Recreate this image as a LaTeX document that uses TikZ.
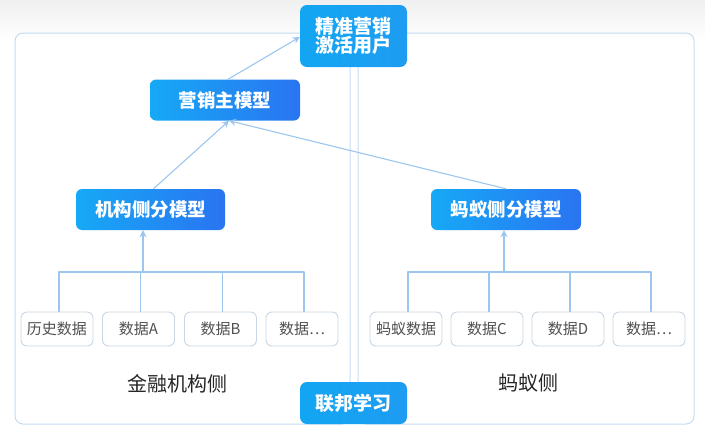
\documentclass[tikz,border=0pt]{standalone}
\usepackage{fontspec}
\setmainfont{Noto Sans CJK SC}
\usetikzlibrary{arrows.meta}
\definecolor{panelline}{HTML}{C3DBF1}
\definecolor{boxleft}{HTML}{16A9F6}
\definecolor{boxright}{HTML}{2A74F1}
\definecolor{capleft}{HTML}{12A6F2}
\definecolor{capright}{HTML}{1E9CF2}
\definecolor{wire}{HTML}{9CC6EE}
\definecolor{databorder}{HTML}{C9D7E5}
\definecolor{datatext}{HTML}{505050}
\begin{document}
\begin{tikzpicture}[x=1pt,y=-1pt,line cap=round,line join=round,
  panel/.style={draw=panelline,line width=1pt,rounded corners=8pt},
  model/.style={rounded corners=6pt,left color=boxleft,right color=boxright,
                text=white,font=\fontsize{18.5}{22}\selectfont\bfseries,
                minimum height=41pt,inner sep=0pt},
  capbox/.style={rounded corners=7pt,left color=capleft,right color=capright,
                 text=white,font=\fontsize{19}{22}\selectfont\bfseries,
                 minimum width=107pt,align=center,inner sep=0pt},
  datum/.style={draw=databorder,line width=.9pt,fill=white,rounded corners=6pt,
                minimum width=72pt,minimum height=34pt,inner sep=0pt,
                text=datatext,font=\fontsize{15}{18}\selectfont},
  side/.style={text=black!85,font=\fontsize{20}{24}\selectfont},
  wireline/.style={draw=wire,line width=1.1pt},
  up/.style={wireline,-{Stealth[length=7pt,width=7pt]}}]
\useasboundingbox (0,0) rectangle (705,440);
\shade[top color=black!6,bottom color=white] (0,0) rectangle (705,40);
\draw[panel] (15,33) rectangle (350,424);
\draw[panel] (358,33) rectangle (694,424);
\node[capbox,minimum height=62pt] (goal) at (353.5,36)
  {精准营销\\[-3pt]激活用户};
\node[capbox,minimum height=42pt] (fed) at (353.5,403) {联邦学习};
\node[model,minimum width=150pt] (main) at (225,100) {营销主模型};
\node[model,minimum width=149pt] (org) at (150.5,209.5) {机构侧分模型};
\node[model,minimum width=150pt] (ant) at (506,209.5) {蚂蚁侧分模型};
\foreach \name/\x/\title in
  {la/57/历史数据, lb/138.5/数据A, lc/220.5/数据B, ld/302/数据…,
   ra/406/蚂蚁数据, rb/487/数据C, rc/568/数据D, rd/649/数据…}
{
  \node[datum] (\name) at (\x,329) {\title};
}
\coordinate (lbus) at (143,272);
\coordinate (rbus) at (504,272);
\foreach \name in {la,lb,lc,ld}
  \draw[wireline] ([xshift=2pt]\name.north) |- (lbus);
\foreach \name in {ra,rb,rc,rd}
  \draw[wireline] ([xshift=2pt]\name.north) |- (rbus);
\draw[up] (lbus) -- (org.south -| lbus);
\draw[up] (rbus) -- (ant.south -| rbus);
\draw[up] ([xshift=3pt]org.north) -- ([xshift=4pt]main.south);
\draw[up] (ant.north) -- ([xshift=4pt]main.south);
\draw[up] ([xshift=3pt]main.north) -- ([yshift=-1pt]goal.west);
\node[side] (orglabel) at (177,384) {金融机构侧};
\node[side] (antlabel) at (528,383) {蚂蚁侧};
\end{tikzpicture}
\end{document}
